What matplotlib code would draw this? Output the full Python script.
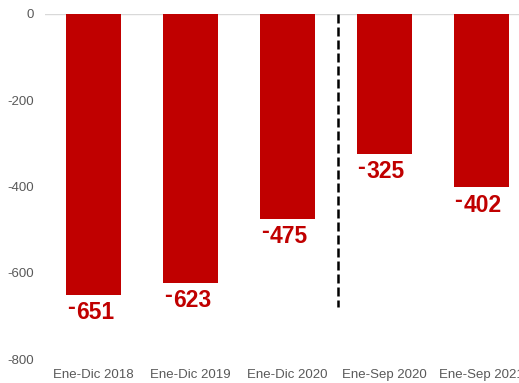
import numpy as np
from matplotlib import pyplot as plt

plt.rcParams['font.family'] = ['Liberation Sans', 'DejaVu Sans']

periods = ['Ene-Dic 2018', 'Ene-Dic 2019', 'Ene-Dic 2020', 'Ene-Sep 2020', 'Ene-Sep 2021']
values = [-651, -623, -475, -325, -402]
yticks = [0, -200, -400, -600, -800]

red = '#C00000'
grey = '#595959'

fig = plt.figure(figsize=(5.19, 3.83), dpi=100)
ax = fig.add_axes([45/519, 24/383, 474/519, 345/383])

x = np.arange(len(periods))
ax.bar(x, values, width=0.57, color=red, zorder=2)

# value labels: small raised dash + bold number
for xi, v in zip(x, values):
    ax.annotate(str(abs(v)), (xi, v), xytext=(1, -4.5), textcoords='offset points',
                ha='center', va='top', fontsize=16.5, fontweight='bold', color=red)
    ax.annotate('-', (xi, v), xytext=(-16.5, -1), textcoords='offset points',
                ha='center', va='top', fontsize=17, fontweight='bold', color=red)

# separator between full-year and Jan-Sep periods
ax.plot([2.52, 2.52], [0, -680], color='black', linewidth=1.8,
        linestyle=(0, (3.6, 1.6)), zorder=3)

ax.axhline(0, color='#D9D9D9', linewidth=1, zorder=1)

ax.set_xlim(-0.5, 4.387)
ax.set_ylim(-800, 0)
ax.set_yticks(yticks)
ax.set_yticklabels([str(t) for t in yticks])
ax.set_xticks(x)
ax.set_xticklabels(periods)
ax.tick_params(axis='both', length=0, labelsize=9.5, colors=grey)
ax.tick_params(axis='x', pad=7)
ax.tick_params(axis='y', pad=8)
for s in ax.spines.values():
    s.set_visible(False)

fig.savefig('out.png', dpi=100)
